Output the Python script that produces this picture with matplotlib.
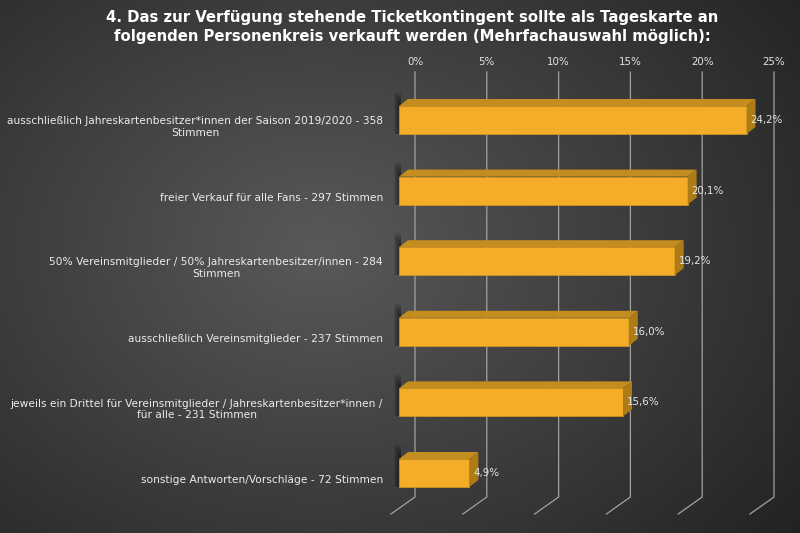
import numpy as np
import matplotlib
matplotlib.use("Agg")
import matplotlib.pyplot as plt
from matplotlib.patches import Polygon

title = ("4. Das zur Verfügung stehende Ticketkontingent sollte als Tageskarte an\n"
         "folgenden Personenkreis verkauft werden (Mehrfachauswahl möglich):")
categories = [
    "ausschließlich Jahreskartenbesitzer*innen der Saison 2019/2020 - 358\nStimmen",
    "freier Verkauf für alle Fans - 297 Stimmen",
    "50% Vereinsmitglieder / 50% Jahreskartenbesitzer/innen - 284\nStimmen",
    "ausschließlich Vereinsmitglieder - 237 Stimmen",
    "jeweils ein Drittel für Vereinsmitglieder / Jahreskartenbesitzer*innen /\nfür alle - 231 Stimmen",
    "sonstige Antworten/Vorschläge - 72 Stimmen",
]
values = [24.2, 20.1, 19.2, 16.0, 15.6, 4.9]
value_labels = ["24,2%", "20,1%", "19,2%", "16,0%", "15,6%", "4,9%"]
ticks = [0, 5, 10, 15, 20, 25]
tick_labels = ["0%", "5%", "10%", "15%", "20%", "25%"]

W, H = 800, 533
fig = plt.figure(figsize=(W / 100, H / 100), dpi=100)

# background radial gradient
bg = fig.add_axes([0, 0, 1, 1])
yy, xx = np.mgrid[0:H, 0:W]
d = np.sqrt(((xx - 320) / 560.0) ** 2 + ((yy - 250) / 430.0) ** 2)
g = np.clip(0.35 - 0.2 * d, 0.135, 0.36)
bg.imshow(np.dstack([g, g, g]), extent=[0, W, H, 0], aspect="auto", interpolation="bilinear")
bg.set_xlim(0, W)
bg.set_ylim(H, 0)
bg.axis("off")

# data axes covering the whole figure
ppx = 14.36        # pixels per percent
x0 = 399.0         # pixel of 0% (front face)
y0, dy_cat = 120.0, 70.6
ax = fig.add_axes([0, 0, 1, 1])
ax.set_xlim(-x0 / ppx, (W - x0) / ppx)
ax.set_ylim((H - y0) / dy_cat, -y0 / dy_cat)
ax.axis("off")
ax.patch.set_alpha(0)

def px_x(p):
    return p / ppx

def px_y(p):
    return p / dy_cat

back_off = px_x(16)
floor_dx = px_x(24)
gl_top, gl_bot, gl_floor = px_y(72 - y0), px_y(497 - y0), px_y(514 - y0)
for t, lab in zip(ticks, tick_labels):
    xb = t + back_off
    ax.plot([xb, xb, xb - floor_dx], [gl_top, gl_bot, gl_floor], color="#a2a2a2", lw=0.9, zorder=1)
    ax.text(xb, px_y(62 - y0), lab, ha="center", va="center",
            color="#e2e2e2", fontsize=7.4, zorder=5)

h = px_y(28)
ddx, ddy = px_x(9), px_y(-7)
front_c, top_c, side_c = "#F3AD28", "#C48D1F", "#AE7C17"
ys = np.arange(len(values))

# soft shadows left of bars
for i, v in enumerate(values):
    n = 10
    for k in range(n):
        w = px_x(0.7 * (n - k))
        ax.add_patch(plt.Rectangle((-w + px_x(2), i - h / 2 - px_y(14) + px_y(1.4 * k)),
                                   w, h + px_y(14) - px_y(1.4 * k), color="black", alpha=0.07,
                                   lw=0, zorder=2))

ax.barh(ys, values, height=h, color=front_c, edgecolor="#D99A20", lw=0.5, zorder=3)
for i, v in enumerate(values):
    top = i - h / 2
    bot = i + h / 2
    ax.add_patch(Polygon([(0, top), (v, top), (v + ddx, top + ddy), (ddx, top + ddy)],
                         closed=True, color=top_c, lw=0, zorder=3))
    ax.add_patch(Polygon([(v, top), (v + ddx, top + ddy), (v + ddx, bot + ddy), (v, bot)],
                         closed=True, color=side_c, lw=0, zorder=3))
    ax.text(v + px_x(4), i, value_labels[i], ha="left", va="center",
            color="#e6e6e6", fontsize=7.4, zorder=6)
    ax.text(px_x(383 - x0), i + px_y(7), categories[i], ha="right", va="center",
            multialignment="center", color="#ececec", fontsize=7.65, linespacing=1.2, zorder=6)

fig.text(412 / W, 1 - 27 / H, title, ha="center", va="center", color="white",
         fontsize=10.7, fontweight="bold", linespacing=1.32)

fig.savefig("out.png", dpi=100)
